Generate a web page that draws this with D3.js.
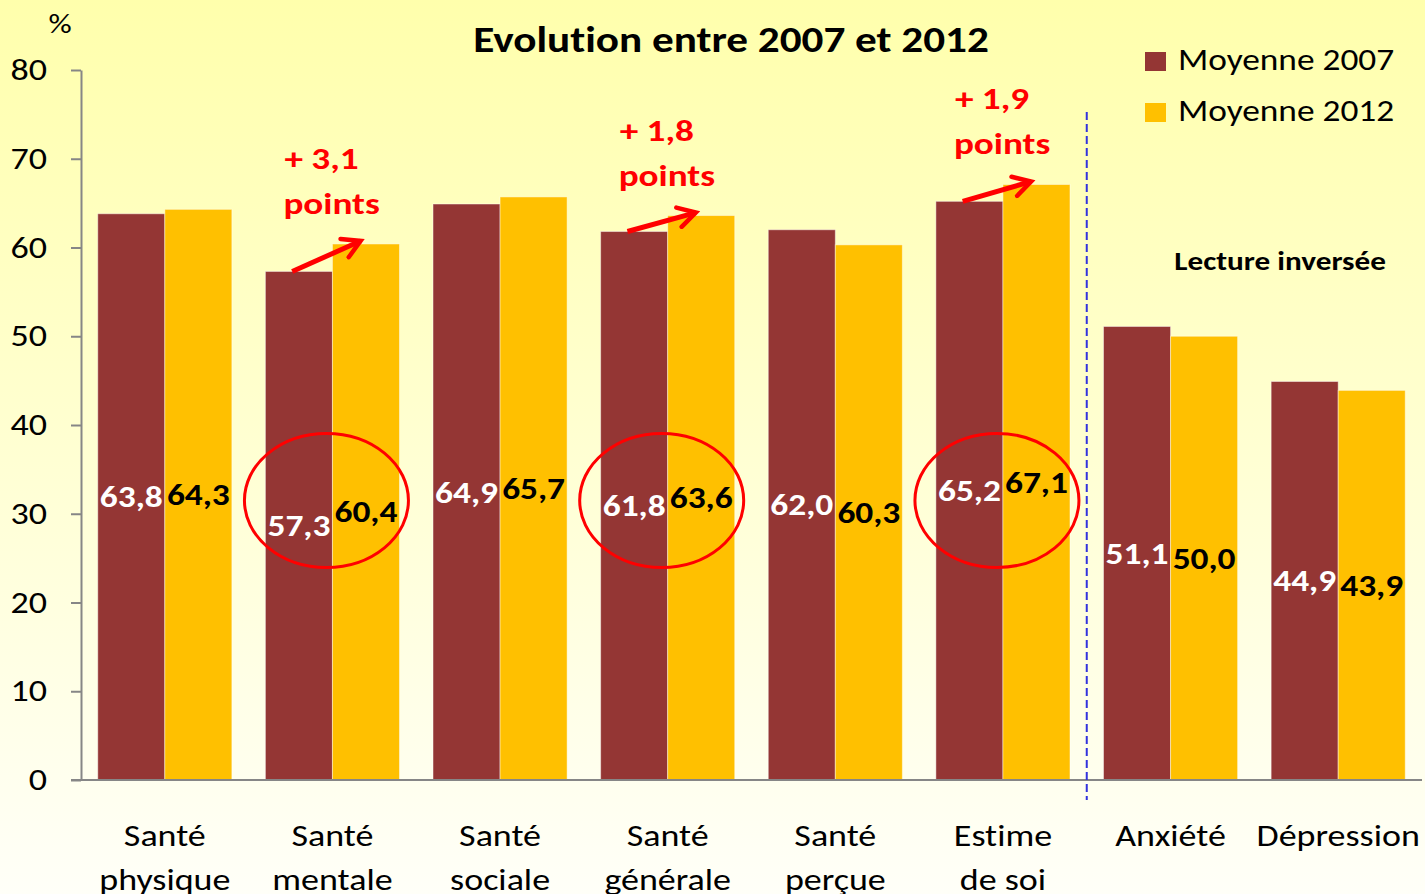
<!DOCTYPE html>
<html>
<head>
<meta charset="utf-8">
<script src="https://cdn.jsdelivr.net/npm/d3@7"></script>
<style>
  body { margin: 0; }
  svg { display: block; font-family: Calibri, Carlito, Lato, sans-serif; font-variant-ligatures: none; }
</style>
</head>
<body>
<svg id="chart"></svg>
<script>
// data
var categories = [["Santé", "physique"], ["Santé", "mentale"], ["Santé", "sociale"], ["Santé", "générale"],
  ["Santé", "perçue"], ["Estime", "de soi"], ["Anxiété"], ["Dépression"]];
var moy2007 = [63.8, 57.3, 64.9, 61.8, 62.0, 65.2, 51.1, 44.9];
var moy2012 = [64.3, 60.4, 65.7, 63.6, 60.3, 67.1, 50.0, 43.9];
var seriesNames = ["Moyenne 2007", "Moyenne 2012"];
var yTicks = [0, 10, 20, 30, 40, 50, 60, 70, 80];
var highlights = [1, 3, 5];          // groups circled with arrow
var gains = ["+ 3,1", "+ 1,8", "+ 1,9"];

var W = 1425, H = 894;
var red = "#943634", gold = "#FFC000";
var SX = 1.2;   // the original text is drawn wide
var fmt = function(v) { return v.toFixed(1).replace(".", ","); };

// move x/y into a transform so glyphs can be widened
function stretch(sel, sx) {
  sel.each(function() {
    var t = d3.select(this);
    var tx = +t.attr("x") || 0, ty = +t.attr("y") || 0;
    t.attr("x", 0).attr("y", 0)
      .attr("transform", "translate(" + tx + "," + ty + ") scale(" + sx + ",1)");
  });
}

var svg = d3.select("#chart").attr("width", W).attr("height", H);

var defs = svg.append("defs");
var grad = defs.append("linearGradient")
  .attr("id", "bg").attr("x1", 0).attr("y1", 0).attr("x2", 0).attr("y2", 1);
grad.append("stop").attr("offset", "0%").attr("stop-color", "#FFFFAC");
grad.append("stop").attr("offset", "100%").attr("stop-color", "#FFFFF8");
svg.append("rect").attr("width", W).attr("height", H).attr("fill", "url(#bg)");

var x = d3.scaleBand().domain(d3.range(categories.length)).range([81, 1422])
  .paddingInner(0.2).paddingOuter(0.1);
var x1 = d3.scaleBand().domain([0, 1]).range([0, x.bandwidth()]);
var y = d3.scaleLinear().domain([0, 80]).range([780, 70]);

// y axis
var yAxis = svg.append("g").attr("transform", "translate(81,0)")
  .call(d3.axisLeft(y).tickValues(yTicks).tickSize(10).tickPadding(24).tickSizeOuter(0));
yAxis.select(".domain").attr("stroke", "#868686").attr("stroke-width", 2);
yAxis.selectAll(".tick line").attr("stroke", "#868686").attr("stroke-width", 2);
yAxis.selectAll(".tick text").attr("font-size", 30).attr("fill", "#000")
  .attr("font-family", "Calibri, Carlito, Lato, sans-serif")
  .call(stretch, SX);

svg.append("text").attr("x", 60).attr("y", 33).attr("text-anchor", "middle")
  .attr("font-size", 27).text("%").call(stretch, SX);

// bars
var groups = svg.append("g").selectAll("g").data(categories).join("g")
  .attr("transform", function(d, i) { return "translate(" + x(i) + ",0)"; });

groups.each(function(d, i) {
  var g = d3.select(this);
  var vals = [moy2007[i], moy2012[i]];
  g.selectAll("rect").data(vals).join("rect")
    .attr("x", function(v, j) { return x1(j); })
    .attr("width", x1.bandwidth())
    .attr("y", function(v) { return y(v); })
    .attr("height", function(v) { return y(0) - y(v); })
    .attr("fill", function(v, j) { return j === 0 ? red : gold; })
    .attr("stroke", "rgba(255,255,255,0.45)").attr("stroke-width", 1);
  g.selectAll("text.val").data(vals).join("text").attr("class", "val")
    .attr("x", function(v, j) { return x1(j) + x1.bandwidth() / 2; })
    .attr("y", function(v) { return y(v / 2); })
    .attr("dy", "0.35em")
    .attr("text-anchor", "middle")
    .attr("font-size", 30).attr("font-weight", "bold")
    .attr("fill", function(v, j) { return j === 0 ? "#fff" : "#000"; })
    .text(fmt)
    .call(stretch, 1.18);
});

// x axis
var xAxis = svg.append("g").attr("transform", "translate(0,780)")
  .call(d3.axisBottom(x).tickSize(0).tickFormat(""));
xAxis.select(".domain").attr("stroke", "#868686").attr("stroke-width", 2)
  .attr("d", "M71,0H1422");
xAxis.selectAll(".tick").each(function(i) {
  var t = d3.select(this).append("text").attr("fill", "#000")
    .attr("font-size", 30).attr("text-anchor", "middle")
    .attr("font-family", "Calibri, Carlito, Lato, sans-serif")
    .attr("transform", "scale(" + SX + ",1)");
  categories[i].forEach(function(line, k) {
    t.append("tspan").attr("x", 0).attr("y", 66 + k * 44).text(line);
  });
});

// separator for inverted reading
var sepX = x(6) - (x.step() - x.bandwidth()) / 2;
svg.append("line").attr("x1", sepX).attr("x2", sepX).attr("y1", 112).attr("y2", 800)
  .attr("stroke", "#3333DD").attr("stroke-width", 2).attr("stroke-dasharray", "8,4");
svg.append("text").attr("x", x(7) + 9).attr("y", 270).attr("text-anchor", "middle")
  .attr("font-size", 26).attr("font-weight", "bold").text("Lecture inversée")
  .call(stretch, SX);

// title
svg.append("text").attr("x", 731).attr("y", 52).attr("text-anchor", "middle")
  .attr("font-size", 36).attr("font-weight", "bold").text("Evolution entre 2007 et 2012")
  .call(stretch, SX);

// legend
var leg = svg.append("g").selectAll("g").data(seriesNames).join("g")
  .attr("transform", function(d, i) { return "translate(1145," + (52 + i * 51) + ")"; });
leg.append("rect").attr("width", 21).attr("height", 19)
  .attr("fill", function(d, i) { return i === 0 ? red : gold; });
leg.append("text").attr("x", 33).attr("y", 18).attr("font-size", 31).text(function(d) { return d; })
  .call(stretch, 1.14);

// highlights: circles, arrows and gains
defs.append("marker").attr("id", "arrow").attr("viewBox", "0 0 10 10")
  .attr("refX", 8).attr("refY", 5).attr("markerWidth", 5).attr("markerHeight", 5)
  .attr("orient", "auto")
  .append("path").attr("d", "M1,1L8,5L1,9").attr("fill", "none")
  .attr("stroke", "#FF0000").attr("stroke-width", 1.8).attr("stroke-linecap", "round");

highlights.forEach(function(i, k) {
  var gx = x(i);
  svg.append("ellipse")
    .attr("cx", gx + x.bandwidth() / 2 - 6).attr("cy", y(31.5))
    .attr("rx", 82).attr("ry", 67)
    .attr("fill", "none").attr("stroke", "#FF0000").attr("stroke-width", 3);
  svg.append("line")
    .attr("x1", gx + x1.bandwidth() * 0.4).attr("y1", y(moy2007[i]))
    .attr("x2", gx + x1(1) + x1.bandwidth() * 0.42).attr("y2", y(moy2012[i]) - 3)
    .attr("stroke", "#FF0000").attr("stroke-width", 5)
    .attr("marker-end", "url(#arrow)");
  svg.append("text").attr("fill", "#FF0000").attr("font-size", 31).attr("font-weight", "bold")
    .attr("x", gx + 19).attr("y", y(moy2012[i]) - 75).text(gains[k]).call(stretch, SX);
  svg.append("text").attr("fill", "#FF0000").attr("font-size", 31).attr("font-weight", "bold")
    .attr("x", gx + 18).attr("y", y(moy2012[i]) - 30).text("points").call(stretch, SX);
});
</script>
</body>
</html>
